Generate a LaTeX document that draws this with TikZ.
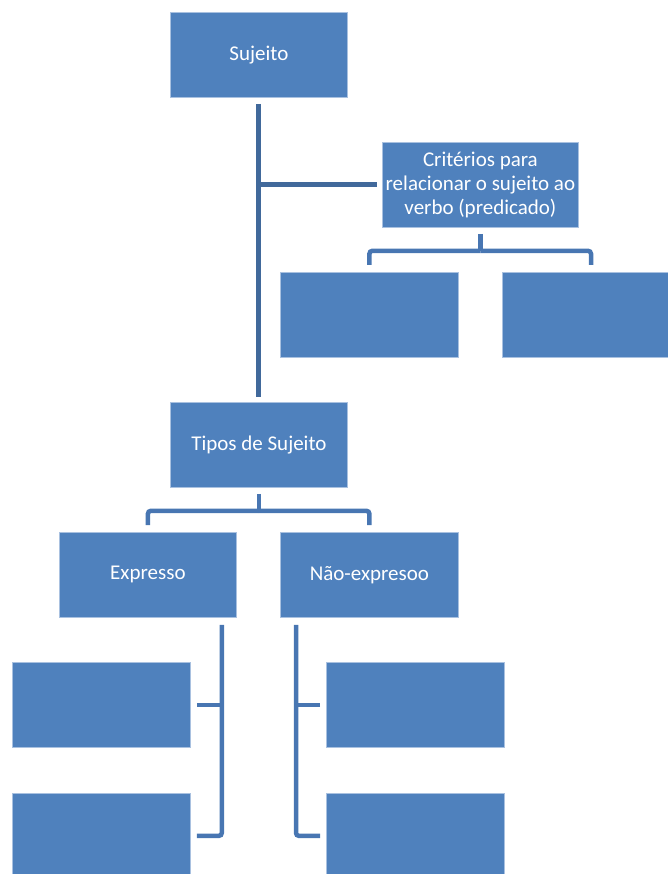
\documentclass[tikz,border=0pt]{standalone}
\usepackage{fontspec}
\setmainfont{Carlito}
\begin{document}
\begin{tikzpicture}[x=1pt,y=-1pt,
  box/.style={draw=boxedge,line width=0.8pt,fill=boxfill,text=white,anchor=north west,
    minimum height=85pt,inner sep=1pt,align=center,font=\fontsize{21}{24}\selectfont},
  conn/.style={draw=linedark,line width=5pt},
  brk/.style={draw=linemid,line width=4.5pt,rounded corners=3pt}]
\definecolor{boxfill}{HTML}{4F81BD}
\definecolor{boxedge}{HTML}{A9C1E0}
\definecolor{linedark}{HTML}{41699B}
\definecolor{linemid}{HTML}{4876B2}
\useasboundingbox (0,0) rectangle (668,874);
\clip (0,0) rectangle (668,874);
% boxes
\node[box,minimum width=177pt] (suj) at (170,12) {Sujeito};
\node[box,minimum width=196pt] (crit) at (382,142) {Critérios para\\relacionar o sujeito ao\\verbo (predicado)};
\node[box,minimum width=178pt] (c1) at (280,272) {};
\node[box,minimum width=178pt] (c2) at (502,272) {};
\node[box,minimum width=177pt] (tipos) at (170,402) {Tipos de Sujeito};
\node[box,minimum width=177pt] (expr) at (59,532) {Expresso};
\node[box,minimum width=178pt] (nexp) at (280,532) {Não-expresoo};
\node[box,minimum width=178pt] (e1) at (12,662) {};
\node[box,minimum width=178pt] (e2) at (12,793) {};
\node[box,minimum width=178pt] (n1) at (326,662) {};
\node[box,minimum width=178pt] (n2) at (326,793) {};
% trunk
\draw[conn,shorten <=6pt,shorten >=5pt] (suj.south) -- (tipos.north);
\coordinate (tb) at (suj.south |- crit.west);
\draw[conn,shorten >=5pt] (tb) -- (crit.west);
% criterios bracket
\coordinate (cm) at ([yshift=-23pt]crit.south);
\draw[brk,shorten <=6pt] (crit.south) -- (cm);
\draw[brk,shorten >=7pt] (cm) -| (c1.north);
\draw[brk,shorten >=7pt] (cm) -| (c2.north west -| 591,0);
% tipos bracket
\coordinate (tm) at ([yshift=-23pt]tipos.south);
\draw[brk,shorten <=6pt] (tipos.south) -- (tm);
\draw[brk,shorten >=7pt] (tm) -| (expr.north);
\draw[brk,shorten >=7pt] (tm) -| (nexp.north);
% expresso bracket
\coordinate (ea) at ([xshift=-15pt]expr.south east);
\draw[brk,shorten <=7pt,shorten >=6pt] (ea) |- (e2.east);
\draw[brk,shorten <=6pt] (e1.east) -- (ea |- e1.east);
% nao-expresso bracket
\coordinate (na) at ([xshift=16pt]nexp.south west);
\draw[brk,shorten <=7pt,shorten >=6pt] (na) |- (n2.west);
\draw[brk,shorten <=6pt] (n1.west) -- (na |- n1.west);
\end{tikzpicture}
\end{document}
